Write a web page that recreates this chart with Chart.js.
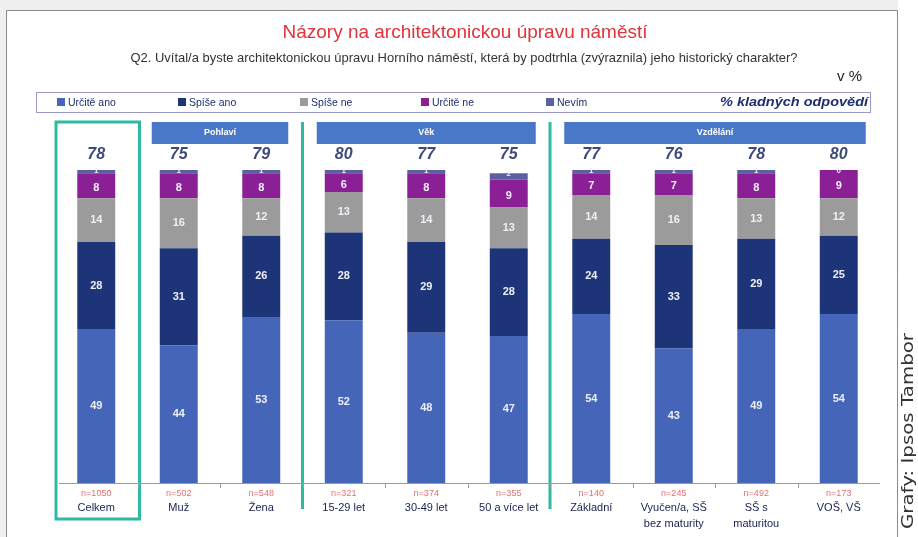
<!DOCTYPE html>
<html lang="cs">
<head>
<meta charset="UTF-8">
<title>Názory na architektonickou úpravu náměstí</title>
<script src="https://cdn.jsdelivr.net/npm/chart.js"></script>
<style>
  body { margin: 0; background: #ffffff; }
  canvas { display: block; }
</style>
</head>
<body>
<canvas id="graf" width="918" height="537"></canvas>
<script>
// data (v %)
const kategorie = [['Celkem'], ['Muž'], ['Žena'], ['15-29 let'], ['30-49 let'], ['50 a více let'],
                   ['Základní'], ['Vyučen/a, SŠ', 'bez maturity'], ['SŠ s', 'maturitou'], ['VOŠ, VŠ']];
const pocty = ['n=1050', 'n=502', 'n=548', 'n=321', 'n=374', 'n=355', 'n=140', 'n=245', 'n=492', 'n=173'];
const urciteAno = [49, 44, 53, 52, 48, 47, 54, 43, 49, 54];
const spiseAno  = [28, 31, 26, 28, 29, 28, 24, 33, 29, 25];
const spiseNe   = [14, 16, 12, 13, 14, 13, 14, 16, 13, 12];
const urciteNe  = [8, 8, 8, 6, 8, 9, 7, 7, 8, 9];
const nevim     = [1, 1, 1, 1, 1, 2, 1, 1, 1, 0];
const kladne    = [78, 75, 79, 80, 77, 75, 77, 76, 78, 80];

const skupiny   = ['Pohlaví', 'Věk', 'Vzdělání'];
const skupinaOd = [1, 3, 6];
const skupinaDo = [2, 5, 9];

const nazvyRad = ['Určitě ano', 'Spíše ano', 'Spíše ne', 'Určitě ne', 'Nevím'];
const barvy = ['#4565b8', '#1e3478', '#9b9b9b', '#8b1f95', '#5d5fa3'];
const TEAL = '#2fb8a2';
const FONT = '"Liberation Sans", Arial, sans-serif';

// text stažený na danou šířku (v originále je užší písmo)
function uzkyText(c, text, x, y, sirka) {
  const w = c.measureText(text).width;
  c.save();
  c.translate(x, y);
  c.scale(sirka / w, 1);
  c.fillText(text, 0, 0);
  c.restore();
}

// pozadí, nadpisy, legenda, rámečky
const kresba = {
  id: 'kresba',
  beforeDraw(chart) {
    const c = chart.ctx;
    c.save();
    c.fillStyle = '#efefef';
    c.fillRect(0, 0, 918, 537);
    c.fillStyle = '#ffffff';
    c.fillRect(6, 10, 892, 527);
    c.fillRect(898, 0, 20, 537);
    c.strokeStyle = '#8a8a8a';
    c.lineWidth = 1;
    c.beginPath();
    c.moveTo(6.5, 537); c.lineTo(6.5, 10.5); c.lineTo(897.5, 10.5); c.lineTo(897.5, 537);
    c.stroke();

    c.textAlign = 'center';
    c.textBaseline = 'middle';
    c.fillStyle = '#e2323c';
    c.font = '19px ' + FONT;
    uzkyText(c, 'Názory na architektonickou úpravu náměstí', 465, 33, 365);
    c.fillStyle = '#333333';
    c.font = '13px ' + FONT;
    uzkyText(c, 'Q2. Uvítal/a byste architektonickou úpravu Horního náměstí, která by podtrhla (zvýraznila) jeho historický charakter?', 464, 58, 667);
    c.textAlign = 'right';
    c.font = '15px ' + FONT;
    c.fillStyle = '#222222';
    c.fillText('v %', 862, 77);

    // legenda
    c.strokeStyle = '#9a9ac8';
    c.strokeRect(36.5, 92.5, 834, 20);
    c.font = '10.5px ' + FONT;
    c.textAlign = 'left';
    const lx = [57, 178, 300, 421, 546];
    nazvyRad.forEach((n, i) => {
      c.fillStyle = barvy[i];
      c.fillRect(lx[i], 98, 8, 8);
      c.fillStyle = '#1e2e6e';
      c.fillText(n, lx[i] + 11, 103);
    });
    c.font = 'italic bold 12px ' + FONT;
    c.textAlign = 'left';
    uzkyText(c, '% kladných odpovědí', 720, 103, 148);

    // svislý podpis
    c.save();
    c.translate(909, 431);
    c.rotate(-Math.PI / 2);
    c.textAlign = 'center';
    c.font = '16px "DejaVu Sans", sans-serif';
    c.fillStyle = '#333333';
    uzkyText(c, 'Grafy: Ipsos Tambor', 0, 0, 196);
    c.restore();
    c.restore();
  },
  afterDatasetsDraw(chart) {
    const c = chart.ctx;
    const x = chart.scales.x;
    const a = chart.chartArea;
    const krok = x.getPixelForValue(1) - x.getPixelForValue(0);
    c.save();

    // hlavičky skupin
    skupiny.forEach((s, i) => {
      const x0 = x.getPixelForValue(skupinaOd[i]) - 27;
      const x1 = x.getPixelForValue(skupinaDo[i]) + 27;
      c.fillStyle = '#4a78c8';
      c.fillRect(x0, 122, x1 - x0, 22);
      c.fillStyle = '#ffffff';
      c.font = 'bold 9px ' + FONT;
      c.textAlign = 'center';
      c.textBaseline = 'middle';
      c.fillText(s, (x0 + x1) / 2, 133);
    });

    // tyrkysové oddělovače a rámeček Celkem
    c.strokeStyle = TEAL;
    c.lineWidth = 3;
    [2, 5].forEach(i => {
      const xp = (x.getPixelForValue(i) + x.getPixelForValue(i + 1)) / 2;
      c.beginPath(); c.moveTo(xp, 122); c.lineTo(xp, 509); c.stroke();
    });
    const cx = x.getPixelForValue(0);
    c.strokeRect(cx - krok / 2 + 1, 122, krok + 1, 397);

    // osa
    c.strokeStyle = '#9a9a9a';
    c.lineWidth = 1;
    c.beginPath(); c.moveTo(a.left + 4, a.bottom + 0.5); c.lineTo(a.right, a.bottom + 0.5);
    for (let i = 1; i < kategorie.length; i++) {
      const xp = Math.round((x.getPixelForValue(i - 1) + x.getPixelForValue(i)) / 2) + 0.5;
      c.moveTo(xp, a.bottom); c.lineTo(xp, a.bottom + 5);
    }
    c.stroke();

    // hodnoty v segmentech
    chart.data.datasets.forEach((ds, di) => {
      const meta = chart.getDatasetMeta(di);
      meta.data.forEach((bar, i) => {
        const v = ds.data[i];
        c.fillStyle = '#eef0f8';
        c.textAlign = 'center';
        c.textBaseline = 'middle';
        if (di === 4) {
          c.font = 'bold 8px ' + FONT;
          c.fillText(v, bar.x, bar.y + 1);
        } else {
          c.font = 'bold 11px ' + FONT;
          c.fillText(v, bar.x, (bar.y + bar.base) / 2 + (di === 3 ? 2 : 0));
        }
      });
    });

    // % kladných odpovědí, n a popisky
    kladne.forEach((k, i) => {
      const xp = x.getPixelForValue(i);
      c.fillStyle = '#3e4a7a';
      c.font = 'italic bold 16px ' + FONT;
      c.textAlign = 'center';
      c.textBaseline = 'middle';
      c.fillText(k, xp, 155);
      c.fillStyle = '#e77070';
      c.font = '9px ' + FONT;
      c.fillText(pocty[i], xp, 494);
      c.fillStyle = '#1a2050';
      c.font = '11px ' + FONT;
      kategorie[i].forEach((r, j) => c.fillText(r, xp, 508 + j * 16));
    });
    c.restore();
  }
};

const rady = [urciteAno, spiseAno, spiseNe, urciteNe, nevim];

new Chart(document.getElementById('graf'), {
  type: 'bar',
  data: {
    labels: kategorie,
    datasets: rady.map((d, i) => ({
      label: nazvyRad[i],
      data: d,
      backgroundColor: barvy[i],
      borderWidth: 0,
      barPercentage: 0.46,
      categoryPercentage: 1
    }))
  },
  options: {
    responsive: false,
    animation: false,
    layout: { padding: { top: 170, bottom: 54, left: 55, right: 38 } },
    plugins: { legend: { display: false }, tooltip: { enabled: false } },
    scales: {
      x: { stacked: true, display: false },
      y: { stacked: true, display: false, min: 0, max: 100 }
    }
  },
  plugins: [kresba]
});
</script>
</body>
</html>
